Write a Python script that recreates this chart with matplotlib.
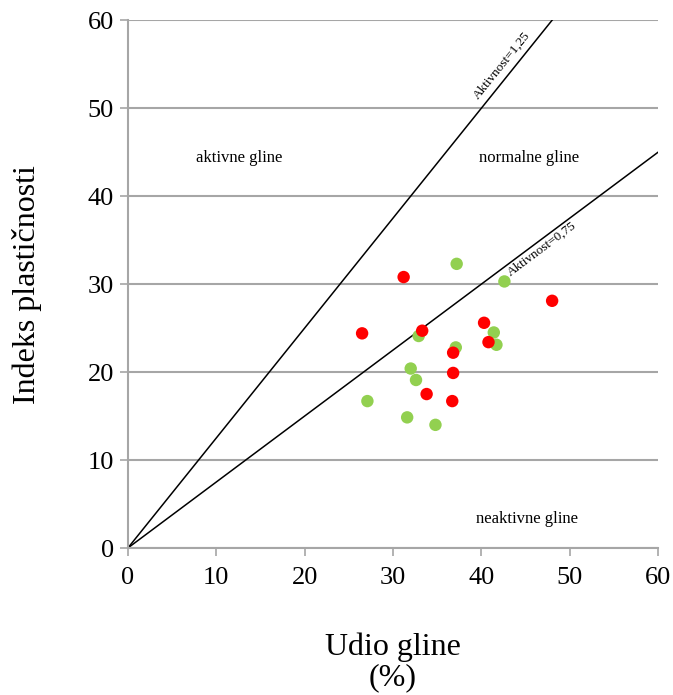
import numpy as np
import matplotlib.pyplot as plt

plt.rcParams["font.family"] = ["Liberation Serif", "DejaVu Serif"]

# zeleni uzorci
green_x = [37.2, 42.6, 32.9, 41.4, 41.7, 37.1, 32.0, 32.6, 27.1, 31.6, 34.8]
green_y = [32.3, 30.3, 24.1, 24.5, 23.1, 22.8, 20.4, 19.1, 16.7, 14.85, 14.0]

# crveni uzorci
red_x = [31.2, 48.0, 40.3, 26.5, 33.3, 40.8, 36.8, 36.8, 33.8, 36.7]
red_y = [30.8, 28.1, 25.6, 24.4, 24.7, 23.4, 22.2, 19.9, 17.5, 16.7]

activity = [1.25, 0.75]
ticks = [0, 10, 20, 30, 40, 50, 60]

fig = plt.figure(figsize=(6.73, 6.95), dpi=100)
ax = fig.add_axes([0.19, 0.2115, 0.788, 0.7595])

for a in activity:
    xe = min(60, 60 / a)
    ax.plot([0, xe], [0, a * xe], color="black", lw=1.1, zorder=2)

ax.scatter(green_x, green_y, s=80, color="#92D050", edgecolors="none", zorder=3)
ax.scatter(red_x, red_y, s=80, color="#FF0000", edgecolors="none", zorder=3)

ax.set_xlim(0, 60)
ax.set_ylim(0, 60)
ax.set_xticks(ticks)
ax.set_yticks(ticks)
ax.yaxis.grid(True, color="#A6A6A6", lw=1.5)
ax.set_axisbelow(True)
for s in ["top", "right"]:
    ax.spines[s].set_visible(False)
for s in ["left", "bottom"]:
    ax.spines[s].set_color("#A6A6A6")
    ax.spines[s].set_linewidth(1.5)
ax.tick_params(axis="both", colors="#A6A6A6", labelcolor="black",
               labelsize=19, length=6, width=1.2)
ax.tick_params(axis="x", pad=8)
ax.tick_params(axis="y", pad=4)

ax.text(12.6, 44.3, "aktivne gline", fontsize=12, ha="center", va="center")
ax.text(45.4, 44.3, "normalne gline", fontsize=12, ha="center", va="center")
ax.text(45.2, 3.3, "neaktivne gline", fontsize=12, ha="center", va="center")
ax.text(42.3, 54.9, "Aktivnost=1,25", fontsize=9.5, rotation=51,
        ha="center", va="center", rotation_mode="anchor")
ax.text(46.8, 34.0, "Aktivnost=0,75", fontsize=9.5, rotation=36.8,
        ha="center", va="center", rotation_mode="anchor")

ax.set_ylabel("Indeks plastičnosti", fontsize=23, labelpad=33)
ax.set_xlabel("Udio gline\n(%)", fontsize=23, labelpad=31, linespacing=1.05)

fig.savefig("out.png", dpi=100)
